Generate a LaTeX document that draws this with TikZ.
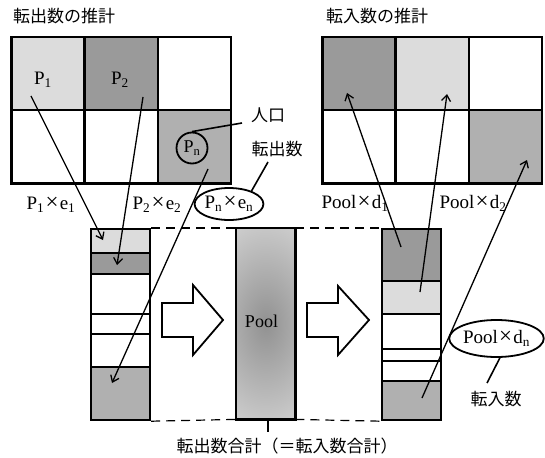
\documentclass[tikz,border=0pt]{standalone}
\usepackage{fontspec}
\setmainfont{Liberation Serif}
\newfontfamily\jp{Noto Sans CJK JP}
\usetikzlibrary{arrows.meta,shapes.geometric}
\definecolor{lg}{HTML}{DCDCDC}
\definecolor{dg}{HTML}{9A9A9A}
\definecolor{mg}{HTML}{B0B0B0}
\newcommand{\bigx}{\hspace{1.2pt}{\fontsize{23}{20}\selectfont ×}\hspace{1.2pt}}
\begin{document}
\begin{tikzpicture}[x=1pt,y=-1pt,
  cell/.style={draw=black,line width=2.5pt,minimum width=73.3pt,minimum height=73pt,inner sep=0pt,anchor=north west},
  seg/.style={draw=black,line width=2.2pt,minimum width=59pt,inner sep=0pt,anchor=north west},
  conn/.style={line width=1.3pt,-{Straight Barb[length=6pt,width=9pt]}},
  lead/.style={line width=1.6pt},
  lbl/.style={inner sep=0pt,font=\fontsize{19}{21}\selectfont},
  jlbl/.style={inner sep=0pt,font=\jp\fontsize{17}{19}\selectfont},
  oval/.style={draw=black,line width=1.8pt,ellipse,inner sep=0pt,font=\fontsize{19}{21}\selectfont},
  dsh/.style={line width=1.2pt,dash pattern=on 9pt off 6pt},
  barrow/.style={draw=black,line width=1.8pt,fill=white,line join=miter}
]
\useasboundingbox (0,0) rectangle (545,457);

% titles
\node[jlbl] (t1) at (64,16) {転出数の推計};
\node[jlbl] (t2) at (377,16) {転入数の推計};

% left grid
\node[cell,fill=lg] (a11) at (10,36) {};
\node[cell,fill=dg] (a12) at (83.3,36) {};
\node[cell] (a13) at (156.6,36) {};
\node[cell] (a21) at (10,109) {};
\node[cell] (a22) at (83.3,109) {};
\node[cell,fill=mg] (a23) at (156.6,109) {};
\node[lbl] (p1) at (43,80) {P\textsubscript{1}};
\node[lbl] (p2) at (120,80) {P\textsubscript{2}};
\node[draw=black,line width=1.8pt,circle,minimum size=31pt,inner sep=0pt,font=\fontsize{18}{20}\selectfont] (pn) at (192,148) {P\textsubscript{n}};

% right grid
\node[cell,fill=dg] (b11) at (321,36) {};
\node[cell,fill=lg] (b12) at (394.3,36) {};
\node[cell] (b13) at (467.6,36) {};
\node[cell] (b21) at (321,109) {};
\node[cell] (b22) at (394.3,109) {};
\node[cell,fill=mg] (b23) at (467.6,109) {};

% left bar
\node[seg,fill=lg,minimum height=24pt] (l1) at (90,228) {};
\node[seg,fill=dg,minimum height=21pt] (l2) at (90,252) {};
\node[seg,minimum height=40pt] (l3) at (90,273) {};
\node[seg,minimum height=20pt] (l4) at (90,313) {};
\node[seg,minimum height=33pt] (l5) at (90,333) {};
\node[seg,fill=mg,minimum height=53pt] (l6) at (90,366) {};

% pool bar
\node[minimum width=59pt,minimum height=191pt,inner sep=0pt,anchor=north west] (pool) at (236,228) {};
\begin{scope}
  \clip (pool.north west) rectangle (pool.south east);
  \shade[inner color=black!43,outer color=black!10] (pool.center) ellipse [x radius=95pt, y radius=150pt];
\end{scope}
\draw[line width=2.2pt] (pool.north west) rectangle (pool.south east);
\node[lbl,font=\fontsize{18}{20}\selectfont] (poolt) at (261.5,321) {Pool};

% right bar
\node[seg,fill=dg,minimum height=52pt] (r1) at (381,228) {};
\node[seg,fill=lg,minimum height=33pt] (r2) at (381,280) {};
\node[seg,minimum height=35pt] (r3) at (381,313) {};
\node[seg,minimum height=12pt] (r4) at (381,348) {};
\node[seg,minimum height=20pt] (r5) at (381,360) {};
\node[seg,fill=mg,minimum height=39pt] (r6) at (381,380) {};

% dashed lines
\draw[dsh] (l1.north east) -- (pool.north west);
\draw[dsh] (l6.south east) -- (pool.south west);
\draw[dsh] (pool.north east) -- (r1.north west);
\draw[dsh] (pool.south east) -- (r6.south west);

% block arrows
\draw[barrow] (162,303) -- (193,303) -- (193,285) -- (223,320) -- (193,355) -- (193,337) -- (162,337) -- cycle;
\draw[barrow] (307,303) -- (338,303) -- (338,286) -- (369,320) -- (338,355) -- (338,337) -- (307,337) -- cycle;

% connectors
\coordinate (s1) at (31,96);  \coordinate (e1) at (103,240);
\coordinate (s2) at (143,97); \coordinate (e2) at (117,265);
\coordinate (s3) at (208,169);\coordinate (e3) at (112,383);
\coordinate (s4) at (401,247);\coordinate (e4) at (347,93);
\coordinate (s5) at (420,292);\coordinate (e5) at (447,94);
\coordinate (s6) at (422,398);\coordinate (e6) at (527,160);
\draw[conn] (s1) -- (e1);
\draw[conn] (s2) -- (e2);
\draw[conn] (s3) -- (e3);
\draw[conn] (s4) -- (e4);
\draw[conn] (s5) -- (e5);
\draw[conn] (s6) -- (e6);

% labels
\node[lbl] (x1) at (51,205) {P\textsubscript{1}\bigx e\textsubscript{1}};
\node[lbl] (x2) at (157,205) {P\textsubscript{2}\bigx e\textsubscript{2}};
\node[oval,minimum width=68pt,minimum height=32pt] (pe) at (229,204) {P\textsubscript{n}\bigx e\textsubscript{n}};
\node[lbl] (y1) at (355,203) {Pool\bigx d\textsubscript{1}};
\node[lbl] (y2) at (473,203) {Pool\bigx d\textsubscript{2}};
\node[oval,minimum width=87pt,minimum height=37pt] (pd) at (496.5,338.5) {Pool\bigx d\textsubscript{n}};

\node[jlbl] (jinko) at (268,115) {人口};
\node[jlbl] (tenshutsu) at (277,149) {転出数};
\node[jlbl] (tennyu) at (496,399) {転入数};
\node[jlbl] (total) at (287,446) {転出数合計（＝転入数合計）};

\coordinate (c1) at (242,123);
\coordinate (c2) at (268,162);
\coordinate (c3) at (487,383);
\coordinate (c4) at (268,432);
\draw[lead] (pn.north) -- (c1);
\draw[lead] (pe.30) -- (c2);
\draw[lead] (pd.-80) -- (c3);
\draw[lead] (pool.south -| c4) -- (c4);
\end{tikzpicture}
\end{document}
